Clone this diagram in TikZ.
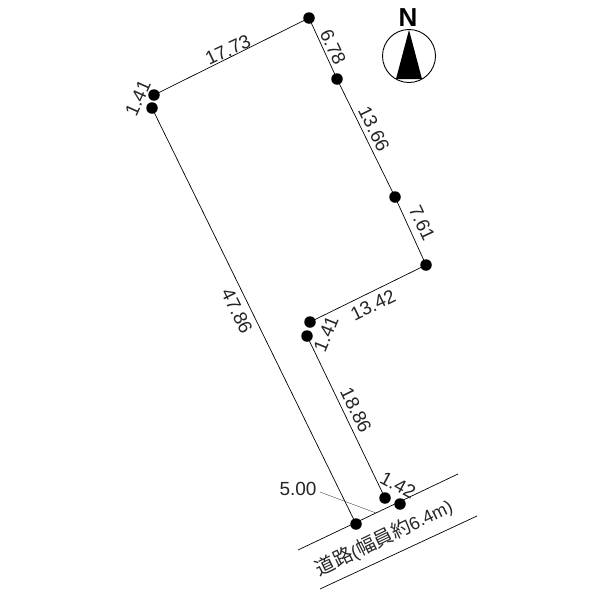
\documentclass[tikz,border=0pt]{standalone}
\usepackage{fontspec}
\setmainfont{Liberation Sans}
\newfontfamily\cjk{Noto Sans CJK JP}
\tikzset{
  bnd/.style={draw=black,line width=0.7pt},
  pt/.style={circle,fill=black,draw=none,minimum size=11.5pt,inner sep=0pt},
  dim/.style={font=\fontsize{19}{19}\selectfont,inner sep=0pt,text=black!85}
}
\begin{document}
\begin{tikzpicture}[x=1pt,y=-1pt]
\useasboundingbox (0,0) rectangle (600,600);
\fill[white] (0,0) rectangle (600,600);
\coordinate (ra) at (298,550); \coordinate (rb) at (458,474);
\coordinate (rc) at (320,589); \coordinate (rd) at (477,516);
\coordinate (le) at (320,492); \coordinate (lf) at (376,513);
\node[pt] (A) at (309,18) {};
\node[pt] (B) at (337,79) {};
\node[pt] (C) at (395,197) {};
\node[pt] (D) at (426,265) {};
\node[pt] (E) at (310,322) {};
\node[pt] (F) at (307,336) {};
\node[pt] (G) at (385,498) {};
\node[pt] (H) at (400,504) {};
\node[pt] (I) at (356,524) {};
\node[pt] (J) at (152,108) {};
\node[pt] (K) at (154,95) {};
\draw[bnd] (K.center)--(A.center)--(B.center)--(C.center)--(D.center)--(E.center);
\draw[bnd] (F.center)--(G.center);
\draw[bnd] (J.center)--(I.center);
\draw[bnd] (ra)--(rb);
\draw[bnd] (rc)--(rd);
\draw[line width=0.4pt,black!70] (le)--(lf);
\node[dim,rotate=25] (d1) at (228,50) {17.73};
\node[dim,rotate=-65] (d2) at (333,47) {6.78};
\node[dim,rotate=-64] (d3) at (374,129) {13.66};
\node[dim,rotate=-65] (d4) at (422,223) {7.61};
\node[dim,rotate=26] (d5) at (373,305) {13.42};
\node[dim,rotate=66] (d6) at (138,98) {1.41};
\node[dim,rotate=-64] (d7) at (237,311) {47.86};
\node[dim,rotate=68] (d8) at (326,334) {1.41};
\node[dim,rotate=-64] (d9) at (356,410) {18.86};
\node[dim,rotate=-28] (d10) at (398,485) {1.42};
\node[dim] (d11) at (298,489) {5.00};
\node[dim,rotate=26,font=\fontsize{18}{18}\selectfont] (road) at (384,538) {{\cjk\fontsize{19.5}{19.5}\selectfont 道路}({\cjk\fontsize{19.5}{19.5}\selectfont 幅員約}6.4m)};
\draw[line width=0.9pt] (409,56) circle (26.5);
\fill[black] (409,30)--(422,79)--(396,79)--cycle;
\node[font=\fontsize{26}{26}\selectfont\bfseries,inner sep=0pt] (N) at (408,18) {N};
\end{tikzpicture}
\end{document}
